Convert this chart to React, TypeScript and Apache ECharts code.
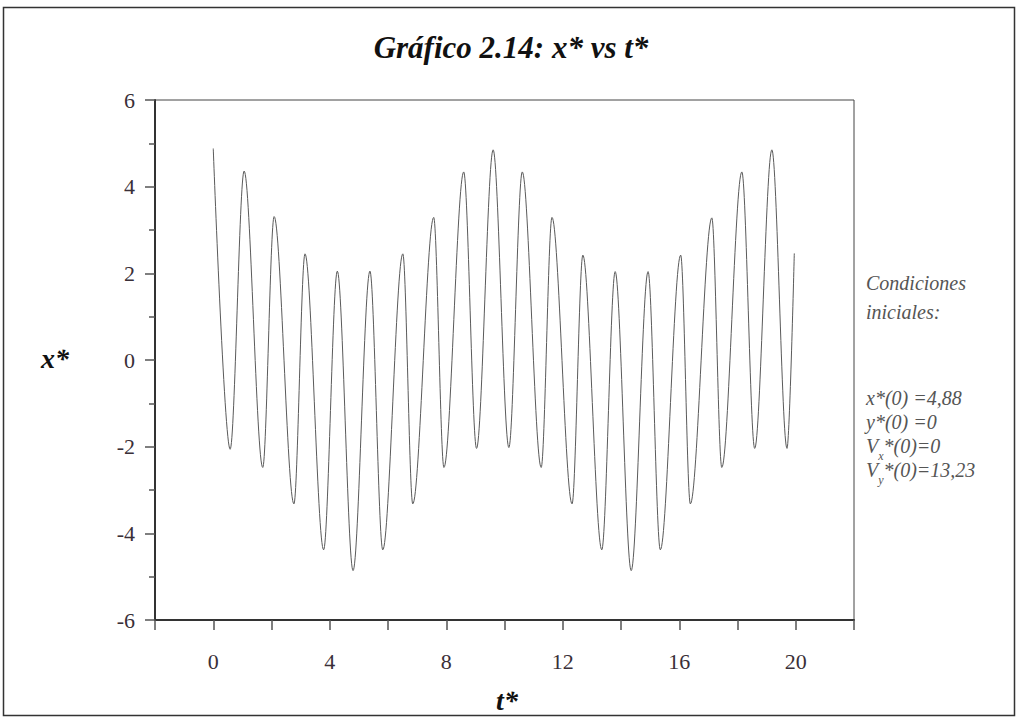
import React, { useEffect, useRef } from "react";
import * as echarts from "echarts";

// t* values at the extrema (and the end points)
const tValues = [
  0.0, 0.58, 1.06, 1.7, 2.09, 2.77, 3.15, 3.79, 4.26, 4.8, 5.38, 5.82, 6.51, 6.85,
  7.57, 7.92, 8.6, 9.04, 9.61, 10.15, 10.61, 11.26, 11.63, 12.32, 12.69, 13.34,
  13.8, 14.35, 14.93, 15.35, 16.05, 16.38, 17.12, 17.46, 18.15, 18.59, 19.18,
  19.7, 19.95,
];
// x* values at those times
const xValues = [
  4.88, -2.06, 4.36, -2.48, 3.31, -3.32, 2.45, -4.38, 2.05, -4.86, 2.05, -4.38,
  2.45, -3.32, 3.29, -2.48, 4.34, -2.04, 4.85, -2.02, 4.34, -2.48, 3.29, -3.32,
  2.42, -4.38, 2.04, -4.86, 2.04, -4.38, 2.42, -3.32, 3.28, -2.48, 4.34, -2.04,
  4.85, -2.04, 2.46,
];

const titleText = "Gráfico 2.14: x* vs t*";
const xAxisName = "t*";
const yAxisName = "x*";
const noteTitle = ["Condiciones", "iniciales:"];

const SERIF = "Liberation Serif, DejaVu Serif, serif";

export default function App() {
  const ref = useRef<HTMLDivElement>(null);
  useEffect(() => {
    if (!ref.current) return;
    const chart = echarts.init(ref.current, null, { renderer: "svg" });
    const data = tValues.map((t, i) => [t, xValues[i]]);
    const noteStyle = { fontFamily: SERIF, fontStyle: "italic", fontSize: 20, fill: "#555" };
    const subStyle = { fontFamily: SERIF, fontStyle: "italic", fontSize: 12, fill: "#555", verticalAlign: "bottom", padding: [0, 0, -6, 0] };
    chart.setOption({
      animation: false,
      backgroundColor: "#fff",
      textStyle: { fontFamily: SERIF },
      grid: {
        left: 155,
        top: 100,
        right: 165,
        bottom: 100,
        show: true,
        borderColor: "#444",
        borderWidth: 1,
        backgroundColor: "transparent",
      },
      xAxis: {
        type: "value",
        min: -2,
        max: 22,
        interval: 2,
        axisLine: { onZero: false, lineStyle: { color: "#333", width: 2 } },
        axisTick: { inside: false, length: 10, lineStyle: { color: "#555", width: 1.5 } },
        axisLabel: {
          margin: 30,
          fontFamily: SERIF,
          fontSize: 22,
          color: "#3a2f38",
          formatter: (v: number) => (v % 4 === 0 ? String(v) : ""),
        },
        splitLine: { show: false },
      },
      yAxis: {
        type: "value",
        min: -6,
        max: 6,
        interval: 2,
        axisLine: { onZero: false, lineStyle: { color: "#333", width: 2 } },
        axisTick: { inside: false, length: 10, lineStyle: { color: "#555", width: 1.5 } },
        minorTick: { show: true, splitNumber: 2, length: 6, lineStyle: { color: "#555", width: 1.5 } },
        axisLabel: { margin: 20, fontFamily: SERIF, fontSize: 22, color: "#3a2f38" },
        splitLine: { show: false },
      },
      series: [
        {
          type: "line",
          data,
          showSymbol: false,
          symbol: "none",
          smooth: 0.33,
          smoothMonotone: "x",
          lineStyle: { color: "#5a5a5a", width: 1 },
        },
      ],
      graphic: [
        {
          type: "rect",
          silent: true,
          shape: { x: 3.5, y: 7.5, width: 1011, height: 708 },
          style: { fill: "none", stroke: "#333", lineWidth: 1.5 },
        },
        {
          type: "text",
          x: 511,
          y: 47,
          style: {
            text: titleText,
            fontFamily: SERIF,
            fontStyle: "italic",
            fontWeight: "bold",
            fontSize: 31,
            fill: "#111",
            align: "center",
            verticalAlign: "middle",
          },
        },
        {
          type: "text",
          x: 55,
          y: 358,
          style: {
            text: yAxisName,
            fontFamily: SERIF,
            fontStyle: "italic",
            fontWeight: "bold",
            fontSize: 28,
            fill: "#111",
            align: "center",
            verticalAlign: "middle",
          },
        },
        {
          type: "text",
          x: 507,
          y: 700,
          style: {
            text: xAxisName,
            fontFamily: SERIF,
            fontStyle: "italic",
            fontWeight: "bold",
            fontSize: 28,
            fill: "#111",
            align: "center",
            verticalAlign: "middle",
          },
        },
        {
          type: "text",
          x: 866,
          y: 283,
          style: { text: noteTitle[0], ...noteStyle, verticalAlign: "middle" },
        },
        {
          type: "text",
          x: 866,
          y: 312,
          style: { text: noteTitle[1], ...noteStyle, verticalAlign: "middle" },
        },
        {
          type: "text",
          x: 866,
          y: 398,
          style: { text: "x*(0) =4,88", ...noteStyle, verticalAlign: "middle" },
        },
        {
          type: "text",
          x: 866,
          y: 422,
          style: { text: "y*(0) =0", ...noteStyle, verticalAlign: "middle" },
        },
        {
          type: "text",
          x: 866,
          y: 446,
          style: {
            text: "{a|V}{s|x}{a|*(0)=0}",
            verticalAlign: "middle",
            fill: "#555",
            rich: { a: noteStyle, s: subStyle },
          },
        },
        {
          type: "text",
          x: 866,
          y: 470,
          style: {
            text: "{a|V}{s|y}{a|*(0)=13,23}",
            verticalAlign: "middle",
            fill: "#555",
            rich: { a: noteStyle, s: subStyle },
          },
        },
      ],
    });
    return () => chart.dispose();
  }, []);
  return (
    <div
      ref={ref}
      style={{ position: "fixed", left: 0, top: 0, width: 1019, height: 720, background: "#fff" }}
    />
  );
}
